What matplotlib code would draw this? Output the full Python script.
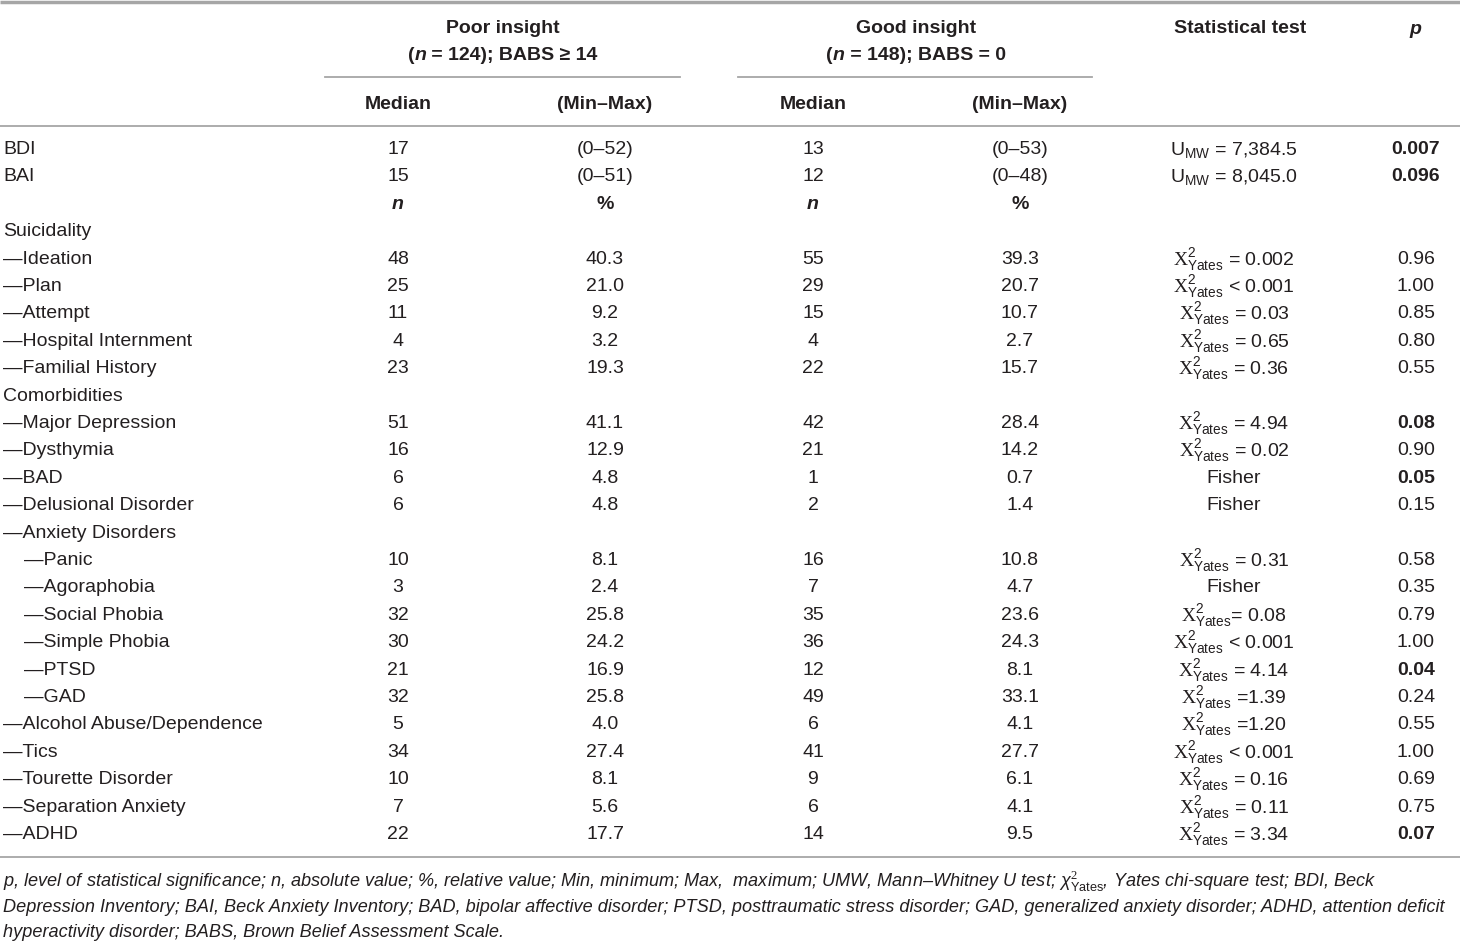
import matplotlib
matplotlib.use("Agg")
import matplotlib.pyplot as plt

plt.rcParams['font.family'] = ['Liberation Sans', 'DejaVu Sans']
plt.rcParams['mathtext.fontset'] = 'custom'
plt.rcParams['mathtext.rm'] = 'Liberation Serif'
plt.rcParams['mathtext.sf'] = 'Liberation Sans'
plt.rcParams['mathtext.it'] = 'Liberation Sans:italic'

# scale scores (median / range)
scale_names = ["BDI", "BAI"]
poor_median = [17, 15]
poor_range = ["(0–52)", "(0–51)"]
good_median = [13, 12]
good_range = ["(0–53)", "(0–48)"]
scale_u = ["7,384.5", "8,045.0"]
scale_p = ["0.007", "0.096"]

# categorical rows
row_labels = ["Suicidality", "Ideation", "Plan", "Attempt", "Hospital Internment",
              "Familial History", "Comorbidities", "Major Depression", "Dysthymia",
              "BAD", "Delusional Disorder", "Anxiety Disorders", "Panic", "Agoraphobia",
              "Social Phobia", "Simple Phobia", "PTSD", "GAD", "Alcohol Abuse/Dependence",
              "Tics", "Tourette Disorder", "Separation Anxiety", "ADHD"]
row_level = [0, 1, 1, 1, 1, 1, 0, 1, 1, 1, 1, 1, 2, 2, 2, 2, 2, 2, 1, 1, 1, 1, 1]
poor_n = [None, 48, 25, 11, 4, 23, None, 51, 16, 6, 6, None,
          10, 3, 32, 30, 21, 32, 5, 34, 10, 7, 22]
poor_pct = [None, "40.3", "21.0", "9.2", "3.2", "19.3", None, "41.1", "12.9", "4.8", "4.8", None,
            "8.1", "2.4", "25.8", "24.2", "16.9", "25.8", "4.0", "27.4", "8.1", "5.6", "17.7"]
good_n = [None, 55, 29, 15, 4, 22, None, 42, 21, 1, 2, None,
          16, 7, 35, 36, 12, 49, 6, 41, 9, 6, 14]
good_pct = [None, "39.3", "20.7", "10.7", "2.7", "15.7", None, "28.4", "14.2", "0.7", "1.4", None,
            "10.8", "4.7", "23.6", "24.3", "8.1", "33.1", "4.1", "27.7", "6.1", "4.1", "9.5"]
# text following the chi-square symbol (None = Fisher exact test)
chi_rest = [None, " = 0.002", " < 0.001", " = 0.03", " = 0.65", " = 0.36", None, " = 4.94", " = 0.02",
            None, None, None, " = 0.31", None, "= 0.08", " < 0.001", " = 4.14", " =1.39",
            " =1.20", " < 0.001", " = 0.16", " = 0.11", " = 3.34"]
fisher = [False, False, False, False, False, False, False, False, False, True, True, False,
          False, True, False, False, False, False, False, False, False, False, False]
p_vals = [None, "0.96", "1.00", "0.85", "0.80", "0.55", None, "0.08", "0.90", "0.05", "0.15", None,
          "0.58", "0.35", "0.79", "1.00", "0.04", "0.24", "0.55", "1.00", "0.69", "0.75", "0.07"]
p_bold = [False, False, False, False, False, False, False, True, False, True, False, False,
          False, False, False, False, True, False, False, False, False, False, True]

footnote = [
    "p, level of statistical significance; n, absolute value; %, relative value; Min, minimum; "
    "Max,  maximum; UMW, Mann–Whitney U test; $\\chi^{2}_{\\mathsf{Yates}}$, Yates chi-square test; BDI, Beck",
    "Depression Inventory; BAI, Beck Anxiety Inventory; BAD, bipolar affective disorder; PTSD, "
    "posttraumatic stress disorder; GAD, generalized anxiety disorder; ADHD, attention deficit",
    "hyperactivity disorder; BABS, Brown Belief Assessment Scale.",
]

INK = "#231f20"
RULE = "#a6a6a6"
FS = 14
DY = 2.5  # va='center' sits a little high, nudge text down

fig = plt.figure(figsize=(14.6, 9.41), dpi=100)
ax = fig.add_axes([0, 0, 1, 1])
ax.set_xlim(0, 1460)
ax.set_ylim(941, 0)
ax.axis("off")
renderer = fig.canvas.get_renderer()


def put(x, y, s, ha="center", **kw):
    kw.setdefault("fontsize", FS)
    return ax.text(x, y + DY, s, ha=ha, va="center", color=INK, **kw)


def rich(x, y, pieces):
    # several differently styled pieces side by side, centred as a group
    texts = [put(0, y, s, ha="left", **kw) for s, kw in pieces]
    widths = [t.get_window_extent(renderer).width for t in texts]
    x0 = x - sum(widths) / 2
    for t, w in zip(texts, widths):
        t.set_x(x0)
        x0 += w


# rules
ax.plot([0, 1460], [1.5, 1.5], color=RULE, lw=2.5, solid_capstyle="butt")
ax.plot([325, 680], [77, 77], color=RULE, lw=1.3)
ax.plot([738, 1092], [77, 77], color=RULE, lw=1.3)
ax.plot([0, 1460], [126, 126], color=RULE, lw=1.3)
ax.plot([0, 1460], [857, 857], color=RULE, lw=1.3)

# column positions
c_pn, c_pp, c_gn, c_gp, c_test, c_p = 398, 605, 813, 1020, 1234, 1416

# header
bold = dict(fontweight="bold")
bi = dict(fontweight="bold", style="italic")
put(503, 26, "Poor insight", **bold)
rich(503, 53, [("(", bold), ("n", bi), (" = 124); BABS ≥ 14", bold)])
put(916, 26, "Good insight", **bold)
rich(916, 53, [("(", bold), ("n", bi), (" = 148); BABS = 0", bold)])
put(1240, 26, "Statistical test", **bold)
put(1415, 27, "p", **bi)
for cx, lab in zip([c_pn, c_pp, c_gn, c_gp], ["Median", "(Min–Max)", "Median", "(Min–Max)"]):
    put(cx, 102, lab, **bold)

row_h = 27.4
y0 = 147

# scale rows
for i, name in enumerate(scale_names):
    y = y0 + i * row_h
    put(3, y, name, ha="left")
    put(c_pn, y, str(poor_median[i]))
    put(c_pp, y, poor_range[i])
    put(c_gn, y, str(good_median[i]))
    put(c_gp, y, good_range[i])
    put(c_test, y, "U$_{\\mathsf{MW}}$ = " + scale_u[i])
    put(c_p, y, scale_p[i], **bold)

# n / % sub-header
y = y0 + 2 * row_h
for cx, lab, kw in [(c_pn, "n", bi), (c_pp, "%", bold), (c_gn, "n", bi), (c_gp, "%", bold)]:
    put(cx, y, lab, **kw)

# categorical rows
chi = "$\\mathrm{X}^{\\mathsf{2}}_{\\mathsf{Yates}}$"
for i, lab in enumerate(row_labels):
    y = y0 + (i + 3) * row_h
    lvl = row_level[i]
    if lvl == 0:
        put(3, y, lab, ha="left")
    else:
        put(3 + (lvl - 1) * 21, y, "—" + lab, ha="left")
    if poor_n[i] is None:
        continue
    put(c_pn, y, str(poor_n[i]))
    put(c_pp, y, poor_pct[i])
    put(c_gn, y, str(good_n[i]))
    put(c_gp, y, good_pct[i])
    put(c_test, y, "Fisher" if fisher[i] else chi + chi_rest[i])
    put(c_p, y, p_vals[i], **(bold if p_bold[i] else {}))

# footnote
for k, line in enumerate(footnote):
    put(3, 879 + k * 25.5, line, ha="left", fontsize=13.1, style="italic")

fig.savefig("out.png", dpi=100)
